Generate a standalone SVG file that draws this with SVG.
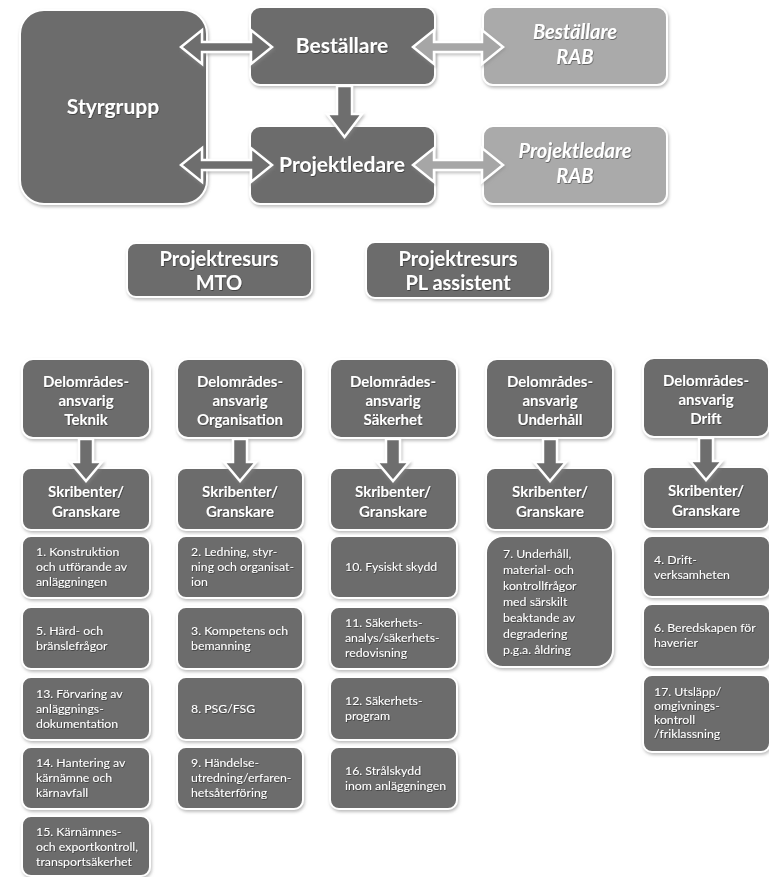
<svg xmlns="http://www.w3.org/2000/svg" width="769" height="877" viewBox="0 0 769 877">
<defs>
<filter id="sh" x="-10%" y="-10%" width="125%" height="130%">
<feDropShadow dx="1" dy="2" stdDeviation="1.6" flood-color="#8a8a8a" flood-opacity="0.55"/>
</filter>
<filter id="ts" x="-5%" y="-20%" width="110%" height="140%">
<feDropShadow dx="0.6" dy="0.8" stdDeviation="0.4" flood-color="#000" flood-opacity="0.5"/>
</filter>
</defs>
<style>
.bx{fill:#6c6c6c;stroke:#ffffff;stroke-width:2;filter:url(#sh)}
.lt{fill:#aaaaaa;stroke:#ffffff;stroke-width:2;filter:url(#sh)}
.ar{fill:#6e6e6e;stroke:#ffffff;stroke-width:2.5;stroke-linejoin:miter;filter:url(#sh)}
.arl{fill:#a6a6a6;stroke:#ffffff;stroke-width:2.5;stroke-linejoin:miter;filter:url(#sh)}
text{font-family:Lato,"Open Sans","Liberation Sans",sans-serif;fill:#ffffff}
.h{font-weight:bold;text-anchor:middle;filter:url(#ts)}
.hl{font-size:21px}
.hi{font-size:20px;font-style:italic}
.hm{font-size:20px}
.hs{font-size:15px}
.s{font-size:12.3px;filter:url(#ts)}
</style>
<rect width="769" height="877" fill="#ffffff"/>

<g id="styrgrupp"><rect class="bx" x="20" y="10" width="187" height="194" rx="24"/><text class="h hl" x="113" y="114">Styrgrupp</text></g>
<g id="bestallare"><rect class="bx" x="250" y="7" width="185" height="78" rx="10"/><text class="h hl" x="342" y="53">Beställare</text></g>
<g id="bestallare-rab"><rect class="lt" x="483" y="7" width="184" height="78" rx="10"/><text class="h hi" x="575" y="39">Beställare</text><text class="h hi" x="575" y="64">RAB</text></g>
<g id="projektledare"><rect class="bx" x="250" y="126" width="185" height="78" rx="10"/><text class="h hl" x="342" y="172">Projektledare</text></g>
<g id="projektledare-rab"><rect class="lt" x="483" y="126" width="184" height="78" rx="10"/><text class="h hi" x="575" y="158">Projektledare</text><text class="h hi" x="575" y="183">RAB</text></g>

<g id="resurs-mto"><rect class="bx" x="127" y="243" width="185" height="54" rx="9"/><text class="h hm" x="219" y="266">Projektresurs</text><text class="h hm" x="219" y="290">MTO</text></g>
<g id="resurs-pl"><rect class="bx" x="366" y="242" width="184" height="56" rx="9"/><text class="h hm" x="458" y="266">Projektresurs</text><text class="h hm" x="458" y="290">PL assistent</text></g>

<g id="del-teknik"><rect class="bx" x="22" y="359" width="128" height="79" rx="11"/><text class="h hs" x="86" y="387">Delområdes-</text><text class="h hs" x="86" y="406">ansvarig</text><text class="h hs" x="86" y="425">Teknik</text></g>
<g id="del-org"><rect class="bx" x="177" y="359" width="126" height="79" rx="11"/><text class="h hs" x="240" y="387">Delområdes-</text><text class="h hs" x="240" y="406">ansvarig</text><text class="h hs" x="240" y="425">Organisation</text></g>
<g id="del-sak"><rect class="bx" x="330" y="359" width="127" height="79" rx="11"/><text class="h hs" x="393" y="387">Delområdes-</text><text class="h hs" x="393" y="406">ansvarig</text><text class="h hs" x="393" y="425">Säkerhet</text></g>
<g id="del-und"><rect class="bx" x="486" y="359" width="127" height="79" rx="11"/><text class="h hs" x="550" y="387">Delområdes-</text><text class="h hs" x="550" y="406">ansvarig</text><text class="h hs" x="550" y="425">Underhåll</text></g>
<g id="del-drift"><rect class="bx" x="643" y="358" width="126" height="79" rx="11"/><text class="h hs" x="706" y="386">Delområdes-</text><text class="h hs" x="706" y="405">ansvarig</text><text class="h hs" x="706" y="424">Drift</text></g>

<g id="skr-1"><rect class="bx" x="22" y="468" width="128" height="62" rx="9"/><text class="h hs" x="86" y="497">Skribenter/</text><text class="h hs" x="86" y="517">Granskare</text></g>
<g id="skr-2"><rect class="bx" x="177" y="468" width="126" height="62" rx="9"/><text class="h hs" x="240" y="497">Skribenter/</text><text class="h hs" x="240" y="517">Granskare</text></g>
<g id="skr-3"><rect class="bx" x="330" y="468" width="127" height="62" rx="9"/><text class="h hs" x="393" y="497">Skribenter/</text><text class="h hs" x="393" y="517">Granskare</text></g>
<g id="skr-4"><rect class="bx" x="486" y="468" width="127" height="62" rx="9"/><text class="h hs" x="550" y="497">Skribenter/</text><text class="h hs" x="550" y="517">Granskare</text></g>
<g id="skr-5"><rect class="bx" x="643" y="467" width="126" height="62" rx="9"/><text class="h hs" x="706" y="496">Skribenter/</text><text class="h hs" x="706" y="516">Granskare</text></g>

<g id="t1"><rect class="bx" x="22" y="536" width="128" height="62" rx="9"/><text class="s" x="36" y="556">1. Konstruktion</text><text class="s" x="36" y="571">och utförande av</text><text class="s" x="36" y="586">anläggningen</text></g>
<g id="t5"><rect class="bx" x="22" y="607" width="128" height="62" rx="9"/><text class="s" x="36" y="634.5">5. Härd- och</text><text class="s" x="36" y="649.5">bränslefrågor</text></g>
<g id="t13"><rect class="bx" x="22" y="677" width="128" height="63" rx="9"/><text class="s" x="36" y="697.5">13. Förvaring av</text><text class="s" x="36" y="712.5">anläggnings-</text><text class="s" x="36" y="727.5">dokumentation</text></g>
<g id="t14"><rect class="bx" x="22" y="747" width="128" height="62" rx="9"/><text class="s" x="36" y="767">14. Hantering av</text><text class="s" x="36" y="782">kärnämne och</text><text class="s" x="36" y="797">kärnavfall</text></g>
<g id="t15"><rect class="bx" x="22" y="816" width="128" height="60" rx="9"/><text class="s" x="36" y="836">15. Kärnämnes-</text><text class="s" x="36" y="851">och exportkontroll,</text><text class="s" x="36" y="866">transportsäkerhet</text></g>

<g id="t2"><rect class="bx" x="177" y="536" width="126" height="62" rx="9"/><text class="s" x="191" y="556">2. Ledning, styr-</text><text class="s" x="191" y="571">ning och organisat-</text><text class="s" x="191" y="586">ion</text></g>
<g id="t3"><rect class="bx" x="177" y="607" width="126" height="62" rx="9"/><text class="s" x="191" y="634.5">3. Kompetens och</text><text class="s" x="191" y="649.5">bemanning</text></g>
<g id="t8"><rect class="bx" x="177" y="677" width="126" height="63" rx="9"/><text class="s" x="191" y="712.5">8. PSG/FSG</text></g>
<g id="t9"><rect class="bx" x="177" y="747" width="126" height="62" rx="9"/><text class="s" x="191" y="767">9. Händelse-</text><text class="s" x="191" y="782">utredning/erfaren-</text><text class="s" x="191" y="797">hetsåterföring</text></g>

<g id="t10"><rect class="bx" x="330" y="536" width="127" height="62" rx="9"/><text class="s" x="345" y="571">10. Fysiskt skydd</text></g>
<g id="t11"><rect class="bx" x="330" y="607" width="127" height="62" rx="9"/><text class="s" x="345" y="627">11. Säkerhets-</text><text class="s" x="345" y="642">analys/säkerhets-</text><text class="s" x="345" y="657">redovisning</text></g>
<g id="t12"><rect class="bx" x="330" y="677" width="127" height="63" rx="9"/><text class="s" x="345" y="705">12. Säkerhets-</text><text class="s" x="345" y="720">program</text></g>
<g id="t16"><rect class="bx" x="330" y="747" width="127" height="62" rx="9"/><text class="s" x="345" y="774.5">16. Strålskydd</text><text class="s" x="345" y="789.5">inom anläggningen</text></g>

<g id="t7"><rect class="bx" x="486" y="536" width="127" height="131" rx="17"/><text class="s" x="503" y="557.5">7. Underhåll,</text><text class="s" x="503" y="573.5">material- och</text><text class="s" x="503" y="589.5">kontrollfrågor</text><text class="s" x="503" y="605.5">med särskilt</text><text class="s" x="503" y="621.5">beaktande av</text><text class="s" x="503" y="637.5">degradering</text><text class="s" x="503" y="653.5">p.g.a. åldring</text></g>

<g id="t4"><rect class="bx" x="643" y="536" width="127" height="61" rx="9"/><text class="s" x="654" y="564">4. Drift-</text><text class="s" x="654" y="579">verksamheten</text></g>
<g id="t6"><rect class="bx" x="643" y="604" width="127" height="63" rx="9"/><text class="s" x="654" y="632">6. Beredskapen för</text><text class="s" x="654" y="647">haverier</text></g>
<g id="t17"><rect class="bx" x="643" y="675" width="127" height="77" rx="9"/><text class="s" x="654" y="696">17. Utsläpp/</text><text class="s" x="654" y="710">omgivnings-</text><text class="s" x="654" y="724">kontroll</text><text class="s" x="654" y="738">/friklassning</text></g>

<g id="connectors">
<path class="ar" d="M181,47 L202,30 L202,42 L251,42 L251,30 L272,47 L251,64 L251,52 L202,52 L202,64 Z"/>
<path class="ar" d="M181,165 L202,148 L202,160 L251,160 L251,148 L272,165 L251,182 L251,170 L202,170 L202,182 Z"/>
<path class="arl" d="M413,47 L434,30 L434,42 L482,42 L482,30 L503,47 L482,64 L482,52 L434,52 L434,64 Z"/>
<path class="arl" d="M413,165 L434,148 L434,160 L482,160 L482,148 L503,165 L482,182 L482,170 L434,170 L434,182 Z"/>
<path class="ar" d="M337,86 L352,86 L352,114 L362,114 L344.5,137 L327,114 L337,114 Z"/>
<path class="ar" d="M79,439 L93,439 L93,462 L102,462 L86,481 L70,462 L79,462 Z"/>
<path class="ar" d="M233,439 L247,439 L247,462 L256,462 L240,481 L224,462 L233,462 Z"/>
<path class="ar" d="M386,439 L400,439 L400,462 L409,462 L393,481 L377,462 L386,462 Z"/>
<path class="ar" d="M543,439 L557,439 L557,462 L566,462 L550,481 L534,462 L543,462 Z"/>
<path class="ar" d="M699,438 L713,438 L713,461 L722,461 L706,480 L690,461 L699,461 Z"/>
</g>
</svg>
